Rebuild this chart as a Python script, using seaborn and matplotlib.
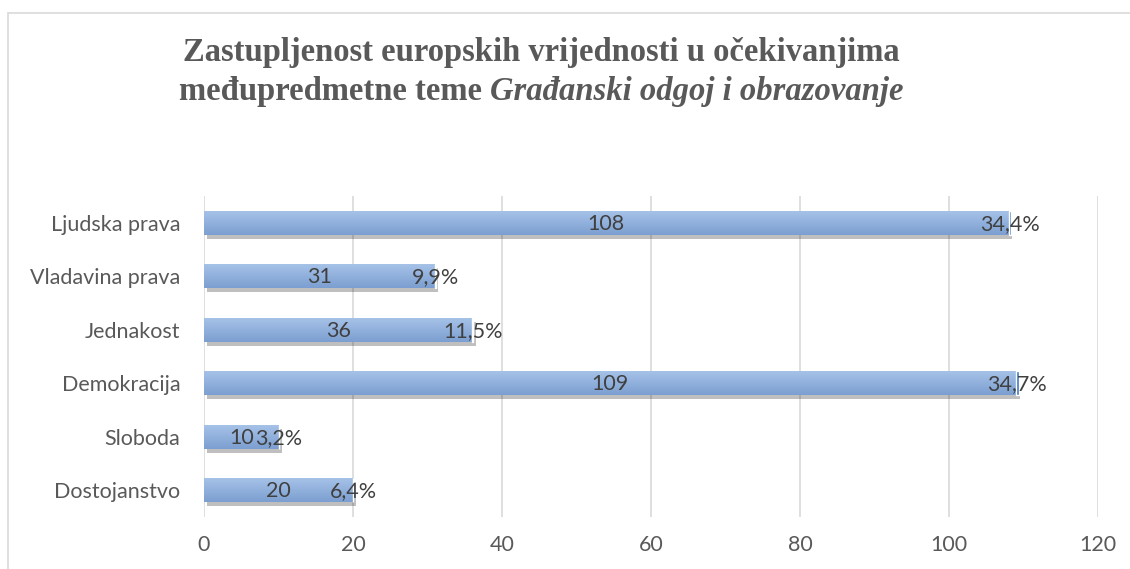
import matplotlib
matplotlib.use("Agg")
import matplotlib.pyplot as plt
import matplotlib.patheffects as pe
from matplotlib.patches import Rectangle
from matplotlib.colors import LinearSegmentedColormap
import numpy as np
import seaborn as sns
import pandas as pd

categories = ["Ljudska prava", "Vladavina prava", "Jednakost", "Demokracija", "Sloboda", "Dostojanstvo"]
counts = [108, 31, 36, 109, 10, 20]
percents = [34.4, 9.9, 11.5, 34.7, 3.2, 6.4]
x_ticks = [0, 20, 40, 60, 80, 100, 120]

sns.set_theme(style="white")
plt.rcParams['font.family'] = ['Lato', 'DejaVu Sans']

df = pd.DataFrame({"cat": categories, "count": counts, "pct": percents})
df["pct_w"] = df["pct"] / 100.0

fig = plt.figure(figsize=(11.3, 5.69), dpi=100)
ax = fig.add_axes([204/1130, 1-517/569, (1098-204)/1130, (517-196)/569])

grid_c = "#d9d9d9"
text_c = "#595959"
lab_c = "#404040"
fs = 15.5

sns.barplot(data=df, y="cat", x="count", orient="h", color="#95b6e0",
            width=0.45, ax=ax, saturation=1, zorder=3)
ax.set_xlim(0, 120)
ax.set_ylim(len(categories) - 0.5, -0.5)

# gradient fill clipped to each bar
grad = np.linspace(0, 1, 64).reshape(-1, 1)
cmap = LinearSegmentedColormap.from_list("g", ["#a7c3e8", "#7c9fd1"])
for p in list(ax.patches):
    p.set_edgecolor("none")
    p.set_path_effects([pe.SimplePatchShadow(offset=(2.5, -3), shadow_rgbFace="#000000", alpha=0.25), pe.Normal()])
    x0, y0 = p.get_x(), p.get_y()
    w, h = p.get_width(), p.get_height()
    im = ax.imshow(grad, extent=[x0, x0 + w, y0 + h, y0], origin="upper", aspect="auto",
                   cmap=cmap, zorder=3.5, interpolation="bilinear")
    im.set_clip_path(p)
ax.set_xlim(0, 120)
ax.set_ylim(len(categories) - 0.5, -0.5)

ypos = list(range(len(categories)))
ax.barh(ypos, df["pct_w"], left=df["count"], height=0.45, color="#3d79c0", zorder=4)

for i, (c, p) in enumerate(zip(counts, percents)):
    ax.text(c / 2, i + 0.02, f"{c}", ha="center", va="center", fontsize=fs, color=lab_c, zorder=5)
    ax.text(c + p / 200.0, i + 0.02, f"{p:.1f}%".replace(".", ","), ha="center", va="center",
            fontsize=fs, color=lab_c, zorder=5)

ax.set_xticks(x_ticks)
ax.set_xticklabels([str(t) for t in x_ticks])
ax.xaxis.grid(True, color=grid_c, linewidth=1.2, zorder=0)
ax.yaxis.grid(False)
ax.set_axisbelow(True)
for s in ax.spines.values():
    s.set_visible(False)
ax.tick_params(axis="x", length=0, pad=13, labelsize=fs, labelcolor=text_c)
ax.tick_params(axis="y", length=0, pad=17, labelsize=fs, labelcolor=text_c)
ax.set_xlabel("")
ax.set_ylabel("")

# chart border
fig.patches.append(Rectangle((8/1130, -0.1), 1.2, 1 - 13/569 + 0.1, transform=fig.transFigure,
                             fill=False, edgecolor="#d9d9d9", linewidth=1.2, zorder=0))

serif = ["Liberation Serif", "DejaVu Serif"]
tfs = 23.5
fig.text(541/1130, 1-52/569, "Zastupljenost europskih vrijednosti u očekivanjima",
         ha="center", va="center", fontsize=tfs, fontweight="bold", color=text_c, family=serif)

r = fig.canvas.get_renderer()
ta = fig.text(0, 1-91/569, "međupredmetne teme ", ha="left", va="center", fontsize=tfs,
              fontweight="bold", color=text_c, family=serif)
tb = fig.text(0, 1-91/569, "Građanski odgoj i obrazovanje", ha="left", va="center", fontsize=tfs,
              fontweight="bold", fontstyle="italic", color=text_c, family=serif)
wa = ta.get_window_extent(r).width
wb = tb.get_window_extent(r).width
start = 541 - (wa + wb) / 2
ta.set_x(start / 1130)
tb.set_x((start + wa) / 1130)

fig.savefig("out.png", dpi=100)
